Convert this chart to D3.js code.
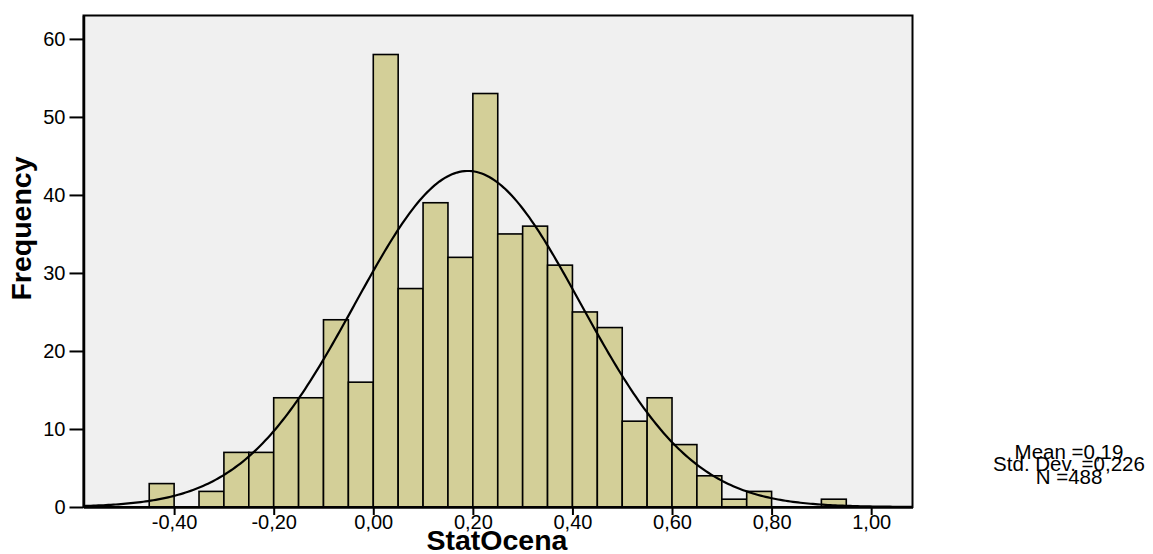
<!DOCTYPE html>
<html>
<head>
<meta charset="utf-8">
<script src="https://cdn.jsdelivr.net/npm/d3@7"></script>
<style>
  body { margin: 0; background: #fff; }
  text { font-family: "Liberation Sans", Arial, sans-serif; }
</style>
</head>
<body>
<div id="holder"></div>
<script>
// histogram bins (lower edge of each 0.05 wide bin) and counts
var binStarts = [-0.45, -0.40, -0.35, -0.30, -0.25, -0.20, -0.15, -0.10, -0.05, 0.00,
                 0.05, 0.10, 0.15, 0.20, 0.25, 0.30, 0.35, 0.40, 0.45, 0.50,
                 0.55, 0.60, 0.65, 0.70, 0.75, 0.80, 0.85, 0.90];
var counts = [3, 0, 2, 7, 7, 14, 14, 24, 16, 58,
              28, 39, 32, 53, 35, 36, 31, 25, 23, 11,
              14, 8, 4, 1, 2, 0, 0, 1];
var binWidth = 0.05;

var xTicks = [-0.4, -0.2, 0, 0.2, 0.4, 0.6, 0.8, 1.0];
var yTicks = [0, 10, 20, 30, 40, 50, 60];

var mean = 0.19, stdDev = 0.226, n = 488;
var statLines = ["Mean =0,19", "Std. Dev. =0,226", "N =488"];

var plotLeft = 83.5, plotRight = 912.5, plotTop = 15.5, plotBottom = 507;

var svg = d3.select('#holder').append('svg').attr('width', 1153).attr('height', 554);

var x = d3.scaleLinear().domain([-0.582, 1.083]).range([plotLeft, plotRight]);
var y = d3.scaleLinear().domain([0, 63]).range([plotBottom, plotTop]);

svg.append('rect')
  .attr('x', plotLeft).attr('y', plotTop)
  .attr('width', plotRight - plotLeft).attr('height', plotBottom - plotTop)
  .style('fill', '#f0f0f0');

var bins = binStarts.map(function(b, i) { return { x0: b, count: counts[i] }; })
  .filter(function(d) { return d.count > 0; });

svg.selectAll('rect.bar').data(bins).enter().append('rect')
  .attr('class', 'bar')
  .attr('x', function(d) { return x(d.x0); })
  .attr('y', function(d) { return y(d.count); })
  .attr('width', function(d) { return x(d.x0 + binWidth) - x(d.x0); })
  .attr('height', function(d) { return y(0) - y(d.count); })
  .style('fill', '#d3cf98')
  .style('stroke', '#000')
  .style('stroke-width', 1.6);

// fitted normal curve
var xs = d3.range(-0.582, 1.0835, 0.005);
var peak = n * binWidth / (stdDev * Math.sqrt(2 * Math.PI));
var curve = xs.map(function(v) {
  var z = (v - mean) / stdDev;
  return [v, peak * Math.exp(-0.5 * z * z)];
});
svg.append('path')
  .datum(curve)
  .attr('d', d3.line().x(function(d) { return x(d[0]); }).y(function(d) { return y(d[1]); }))
  .style('fill', 'none')
  .style('stroke', '#000')
  .style('stroke-width', 2.2);

// frame
svg.append('rect')
  .attr('x', plotLeft).attr('y', plotTop)
  .attr('width', plotRight - plotLeft).attr('height', plotBottom - plotTop)
  .style('fill', 'none')
  .style('stroke', '#000')
  .style('stroke-width', 2);

var yAxis = svg.append('g')
  .attr('transform', 'translate(' + plotLeft + ',0)')
  .call(d3.axisLeft(y).tickValues(yTicks).tickSize(14).tickSizeOuter(0).tickPadding(4));
var xAxis = svg.append('g')
  .attr('transform', 'translate(0,' + plotBottom + ')')
  .call(d3.axisBottom(x).tickValues(xTicks).tickSize(8).tickSizeOuter(0).tickPadding(0)
    .tickFormat(function(d) { return d.toFixed(2).replace('.', ','); }));

[xAxis, yAxis].forEach(function(g) {
  g.select('.domain').style('stroke', '#000').style('stroke-width', 2.5);
  g.selectAll('.tick line').style('stroke', '#000').style('stroke-width', 2);
  g.selectAll('.tick text')
    .style('font-size', '20px')
    .style('font-family', '"Liberation Sans", Arial, sans-serif')
    .style('fill', '#000');
});

svg.append('text')
  .attr('transform', 'translate(30.5,228.5) rotate(-90)')
  .attr('text-anchor', 'middle')
  .style('font-size', '28.5px')
  .style('font-weight', 'bold')
  .text('Frequency');

svg.append('text')
  .attr('x', 497).attr('y', 550)
  .attr('text-anchor', 'middle')
  .style('font-size', '28.5px')
  .style('font-weight', 'bold')
  .text('StatOcena');

svg.selectAll('text.stat').data(statLines).enter().append('text')
  .attr('class', 'stat')
  .attr('x', 1069)
  .attr('y', function(d, i) { return 459 + i * 12.3; })
  .attr('text-anchor', 'middle')
  .style('font-size', '20.5px')
  .text(function(d) { return d; });
</script>
</body>
</html>
